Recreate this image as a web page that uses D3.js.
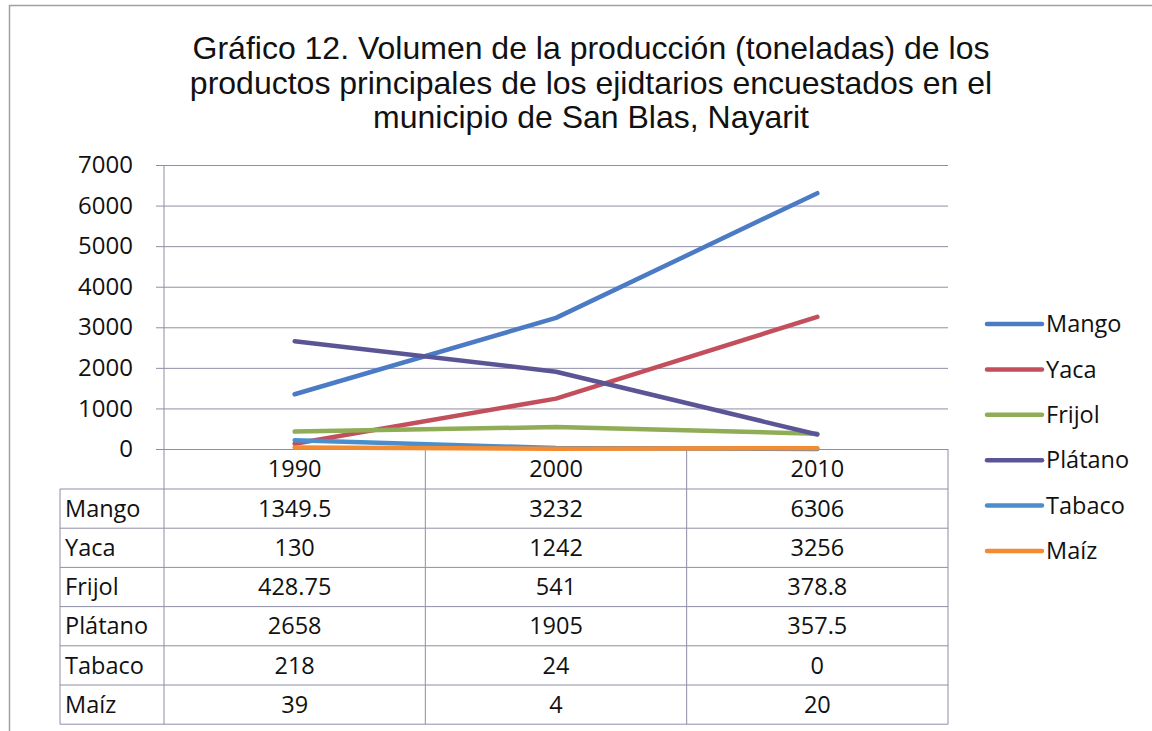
<!DOCTYPE html>
<html>
<head>
<meta charset="utf-8">
<script src="https://cdn.jsdelivr.net/npm/d3@7"></script>
<style>
  body { margin: 0; background: #fff; }
  svg { display: block; }
</style>
</head>
<body>
<svg id="chart"></svg>
<script>
// data
const years = ["1990", "2000", "2010"];
const series = ["Mango", "Yaca", "Frijol", "Plátano", "Tabaco", "Maíz"];
const mango = [1349.5, 3232, 6306];
const yaca = [130, 1242, 3256];
const frijol = [428.75, 541, 378.8];
const platano = [2658, 1905, 357.5];
const tabaco = [218, 24, 0];
const maiz = [39, 4, 20];
const tableLabels = [
  ["1349.5", "3232", "6306"],
  ["130", "1242", "3256"],
  ["428.75", "541", "378.8"],
  ["2658", "1905", "357.5"],
  ["218", "24", "0"],
  ["39", "4", "20"]
];
const yTicks = [0, 1000, 2000, 3000, 4000, 5000, 6000, 7000];
const titleLines = [
  "Gráfico 12. Volumen de la producción (toneladas) de los",
  "productos principales de los ejidtarios encuestados en el",
  "municipio de San Blas, Nayarit"
];

const values = [mango, yaca, frijol, platano, tabaco, maiz];
const colors = ["#4a7bc4", "#c24f5b", "#8fac57", "#5b5595", "#4a8fcb", "#f28b32"];

const width = 1152;
const height = 731;
const gridColor = "#8e8ea6";
const fontTable = "'Open Sans', sans-serif";
const tableSize = "23.5px";

const svg = d3.select("#chart").attr("width", width).attr("height", height);

// outer frame of the scanned chart
svg.append("rect")
  .attr("x", 9.5).attr("y", 5.5)
  .attr("width", 1200).attr("height", 800)
  .attr("fill", "none").attr("stroke", "#a0a0a8").attr("stroke-width", 1.5);

// title
svg.append("g")
  .selectAll("text")
  .data(titleLines)
  .enter()
  .append("text")
  .attr("x", 591)
  .attr("y", (d, i) => 59 + i * 34.5)
  .attr("text-anchor", "middle")
  .style("font-family", "'Liberation Sans', Arial, sans-serif")
  .style("font-size", "32px")
  .style("fill", "#111")
  .text(d => d);

const x = d3.scaleBand().domain(years).range([164, 948]);
const y = d3.scaleLinear().domain([0, 7000]).range([449, 165]);

// gridlines + y axis
const yAxis = svg.append("g")
  .attr("transform", `translate(${x.range()[0]},0)`)
  .call(d3.axisLeft(y).tickValues(yTicks).tickFormat(d3.format("d"))
    .tickSize(8).tickSizeOuter(0).tickPadding(23));
yAxis.select(".domain").remove();
yAxis.selectAll(".tick line").attr("stroke", gridColor).attr("x2", x.range()[1] - x.range()[0]).attr("x1", -8);
yAxis.selectAll(".tick text")
  .style("font-family", fontTable)
  .style("font-size", "24px")
  .style("fill", "#111");

// data table
const rowTop = 449;
const headerH = 40;
const rowH = 39.2;
const labelLeft = 60;
const tableBottom = rowTop + headerH + rowH * series.length;
const tbl = svg.append("g").attr("stroke", gridColor).attr("stroke-width", 1);

// vertical axis line, goes through plot and table
tbl.append("line")
  .attr("x1", x.range()[0]).attr("x2", x.range()[0])
  .attr("y1", y(7000)).attr("y2", tableBottom);
// column borders
tbl.selectAll(".col")
  .data(years)
  .enter()
  .append("line")
  .attr("x1", d => x(d) + x.bandwidth()).attr("x2", d => x(d) + x.bandwidth())
  .attr("y1", rowTop).attr("y2", tableBottom);
tbl.append("line")
  .attr("x1", labelLeft).attr("x2", labelLeft)
  .attr("y1", rowTop + headerH).attr("y2", tableBottom);
// row borders
tbl.selectAll(".row")
  .data(d3.range(series.length + 1))
  .enter()
  .append("line")
  .attr("x1", labelLeft).attr("x2", x.range()[1])
  .attr("y1", i => rowTop + headerH + i * rowH)
  .attr("y2", i => rowTop + headerH + i * rowH);

// header row
svg.selectAll(".yr")
  .data(years)
  .enter()
  .append("text")
  .attr("x", d => x(d) + x.bandwidth() / 2)
  .attr("y", rowTop + headerH / 2)
  .attr("dy", "0.35em")
  .attr("text-anchor", "middle")
  .style("font-family", fontTable)
  .style("font-size", tableSize)
  .style("fill", "#111")
  .text(d => d);

// row labels
svg.selectAll(".rl")
  .data(series)
  .enter()
  .append("text")
  .attr("x", labelLeft + 5)
  .attr("y", (d, i) => rowTop + headerH + i * rowH + rowH / 2)
  .attr("dy", "0.35em")
  .style("font-family", fontTable)
  .style("font-size", tableSize)
  .style("fill", "#111")
  .text(d => d);

// cells
tableLabels.forEach((row, i) => {
  svg.selectAll(".c" + i)
    .data(row)
    .enter()
    .append("text")
    .attr("x", (d, j) => x(years[j]) + x.bandwidth() / 2)
    .attr("y", rowTop + headerH + i * rowH + rowH / 2)
    .attr("dy", "0.35em")
    .attr("text-anchor", "middle")
    .style("font-family", fontTable)
    .style("font-size", tableSize)
    .style("fill", "#111")
    .text(d => d);
});

// lines
const line = d3.line()
  .x((d, i) => x(years[i]) + x.bandwidth() / 2)
  .y(d => y(d));

svg.append("g")
  .selectAll("path")
  .data(values)
  .enter()
  .append("path")
  .attr("d", line)
  .attr("fill", "none")
  .attr("stroke", (d, i) => colors[i])
  .attr("stroke-width", 4.5)
  .attr("stroke-linecap", "round")
  .attr("stroke-linejoin", "round");

// legend
const legend = svg.append("g")
  .selectAll("g")
  .data(series)
  .enter()
  .append("g")
  .attr("transform", (d, i) => `translate(987,${324 + i * 45.4})`);
legend.append("line")
  .attr("x1", 0).attr("x2", 55)
  .attr("stroke", (d, i) => colors[i])
  .attr("stroke-width", 4.5)
  .attr("stroke-linecap", "round");
legend.append("text")
  .attr("x", 59)
  .attr("dy", "0.35em")
  .style("font-family", fontTable)
  .style("font-size", tableSize)
  .style("fill", "#111")
  .text(d => d);
</script>
</body>
</html>
